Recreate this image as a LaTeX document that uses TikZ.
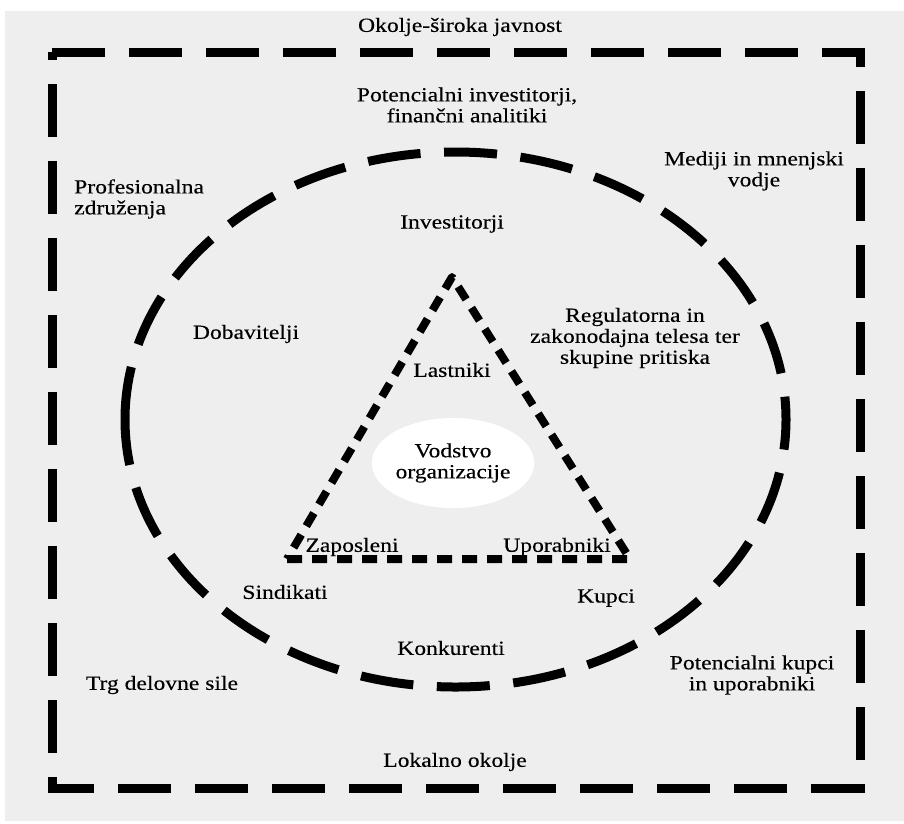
\documentclass[tikz,border=0pt]{standalone}
\usepackage{fontspec}
\setmainfont{Liberation Serif}[FakeStretch=1.18,FakeBold=0.3]
\usetikzlibrary{shapes.geometric}
\definecolor{bggray}{RGB}{238,238,238}
\begin{document}
\begin{tikzpicture}[x=1pt,y=-1pt,
  lbl/.style={font=\fontsize{20}{21}\selectfont, align=center, inner sep=0pt},
  outerbox/.style={line width=9pt, dash pattern=on 53pt off 24pt},
  midring/.style={line width=9pt, dash pattern=on 53pt off 23.6pt},
  innertri/.style={line width=8pt, dash pattern=on 15pt off 10pt, line join=round}]
\useasboundingbox (0,0) rectangle (904,823);
\fill[bggray] (5,11) rectangle (904,821);
% outer dashed box
\draw[outerbox] (52,52) -- (860,52) -- (860,788) -- (52,788) -- cycle;
% middle dashed ellipse, starting at its leftmost point and going up
\coordinate (ringleft) at (125,419.5);
\draw[midring] (ringleft) arc[start angle=180, end angle=540, x radius=330.5, y radius=267.5];
% inner dashed triangle
\coordinate (apex) at (452,277);
\coordinate (bl) at (287,559);
\coordinate (br) at (630,559);
\draw[innertri] (bl) -- (br) -- (apex) -- cycle;
% core
\node[ellipse, fill=white, minimum width=162pt, minimum height=90pt, inner sep=0pt,
      font=\fontsize{20}{21}\selectfont, align=center] (lead) at (453,463) {Vodstvo\\organizacije};
% labels
\node[lbl] (okolje) at (460,27) {Okolje-široka javnost};
\node[lbl] (potinv) at (467,105) {Potencialni investitorji,\\finančni analitiki};
\node[lbl] (mediji) at (754,171) {Mediji in mnenjski\\vodje};
\node[lbl, anchor=west, align=left] (prof) at (74,199) {Profesionalna\\združenja};
\node[lbl] (inv) at (452,224) {Investitorji};
\node[lbl] (dob) at (246,334) {Dobavitelji};
\node[lbl] (reg) at (635,338) {Regulatorna in\\zakonodajna telesa ter\\skupine pritiska};
\node[lbl] (last) at (452,370) {Lastniki};
\node[lbl] (zap) at (352,547) {Zaposleni};
\node[lbl] (upo) at (557,547) {Uporabniki};
\node[lbl] (sind) at (285,592) {Sindikati};
\node[lbl] (kupci) at (606,598) {Kupci};
\node[lbl] (konk) at (451,648) {Konkurenti};
\node[lbl] (trg) at (162,685) {Trg delovne sile};
\node[lbl] (potkup) at (752,675) {Potencialni kupci\\in uporabniki};
\node[lbl] (lok) at (455,762) {Lokalno okolje};
\end{tikzpicture}
\end{document}
